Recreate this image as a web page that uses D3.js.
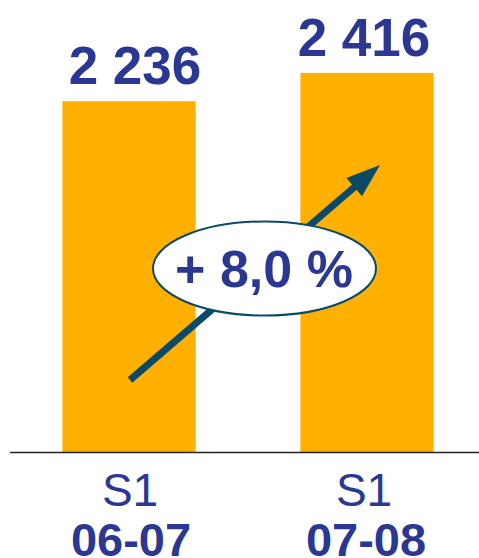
<!DOCTYPE html>
<html>
<head>
<meta charset="utf-8">
<script src="https://cdn.jsdelivr.net/npm/d3@7"></script>
<style>
  body { margin: 0; background: #fff; }
  svg { display: block; font-family: "Liberation Sans", Arial, sans-serif; }
</style>
</head>
<body>
<div id="chart"></div>
<script>
const periods = ['S1', 'S1'];
const years = ['06-07', '07-08'];
const values = [2236, 2416];
const growthLabel = '+ 8,0 %';

const width = 479;
const height = 558;
const baseline = 452.5;
const blue = '#2b3893';
const teal = '#0b4a66';

const svg = d3.select('#chart')
    .append('svg')
    .attr('width', width)
    .attr('height', height);

const xScale = d3.scaleBand()
    .domain(years)
    .range([10, 486])
    .paddingInner(0.44)
    .paddingOuter(0.22);

const yScale = d3.scaleLinear()
    .domain([0, 2880])
    .range([baseline, 0]);

const data = years.map((y, i) => ({ year: y, period: periods[i], value: values[i] }));

// bars
svg.append('g')
    .selectAll('rect')
    .data(data)
    .join('rect')
    .attr('x', (d) => xScale(d.year))
    .attr('y', (d) => yScale(d.value))
    .attr('width', xScale.bandwidth())
    .attr('height', (d) => yScale(0) - yScale(d.value))
    .attr('fill', '#ffb000');

// value labels
svg.append('g')
    .selectAll('text')
    .data(data)
    .join('text')
    .attr('x', (d, i) => xScale(d.year) + xScale.bandwidth() / 2 + (i === 0 ? 6 : -3))
    .attr('y', (d) => yScale(d.value) - 17)
    .attr('text-anchor', 'middle')
    .attr('font-size', 53)
    .attr('font-weight', 'bold')
    .attr('fill', blue)
    .text((d) => d3.format(',')(d.value).replace(',', ' '));

// baseline axis
const xAxis = d3.axisBottom(xScale).tickSize(0).tickFormat('');
const axisG = svg.append('g')
    .attr('transform', `translate(0, ${baseline})`)
    .call(xAxis);
axisG.select('.domain')
    .attr('d', `M10,0H${width}`)
    .attr('stroke', '#222')
    .attr('stroke-width', 1.6);

// category labels
const cats = svg.append('g')
    .selectAll('g')
    .data(data)
    .join('g')
    .attr('transform', (d) => `translate(${xScale(d.year) + xScale.bandwidth() / 2}, 0)`);

cats.append('text')
    .attr('y', 506)
    .attr('x', (d, i) => i === 0 ? 1 : -3)
    .attr('text-anchor', 'middle')
    .attr('font-size', 46)
    .attr('fill', blue)
    .text((d) => d.period);

cats.append('text')
    .attr('y', 556)
    .attr('x', (d, i) => i === 0 ? 2 : -1)
    .attr('text-anchor', 'middle')
    .attr('font-size', 47)
    .attr('font-weight', 'bold')
    .attr('fill', blue)
    .text((d) => d.year);

// growth arrow
const tail = [130, 380];
const tip = [380, 165];
const dx = tip[0] - tail[0], dy = tip[1] - tail[1];
const len = Math.hypot(dx, dy);
const ux = dx / len, uy = dy / len;
const headLen = 34, headHalf = 12;
const base = [tip[0] - ux * headLen, tip[1] - uy * headLen];

svg.append('line')
    .attr('x1', tail[0]).attr('y1', tail[1])
    .attr('x2', base[0] + ux * 4).attr('y2', base[1] + uy * 4)
    .attr('stroke', teal)
    .attr('stroke-width', 7);

svg.append('path')
    .attr('d', d3.line()([
        tip,
        [base[0] - uy * headHalf, base[1] + ux * headHalf],
        [base[0] + uy * headHalf, base[1] - ux * headHalf]
    ]) + 'Z')
    .attr('fill', teal);

// growth bubble
svg.append('ellipse')
    .attr('cx', 264.5)
    .attr('cy', 268.5)
    .attr('rx', 111.5)
    .attr('ry', 47)
    .attr('fill', '#fff')
    .attr('stroke', teal)
    .attr('stroke-width', 2);

svg.append('text')
    .attr('x', 264)
    .attr('y', 287)
    .attr('text-anchor', 'middle')
    .attr('font-size', 52)
    .attr('font-weight', 'bold')
    .attr('fill', blue)
    .text(growthLabel);
</script>
</body>
</html>
